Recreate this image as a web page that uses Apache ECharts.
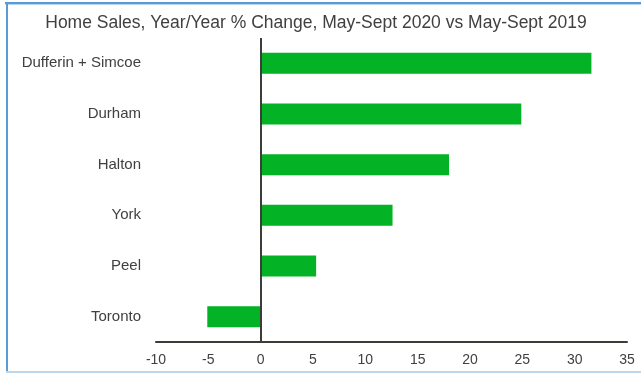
<!DOCTYPE html>
<html>
<head>
<meta charset="utf-8">
<script src="https://cdn.jsdelivr.net/npm/echarts@6/dist/echarts.min.js"></script>
<style>
  html, body { margin: 0; padding: 0; background: #fff; }
  #chart { width: 641px; height: 373px; }
</style>
</head>
<body>
<div id="chart"></div>
<script>
// Regions, listed bottom-to-top as the category axis draws them
const regions = ['Toronto', 'Peel', 'York', 'Halton', 'Durham', 'Dufferin + Simcoe'];
// Year-over-year change in home sales, percent
const changePct = [-5.1, 5.3, 12.6, 18.0, 24.9, 31.6];
// Value axis extent and step
const axisMin = -10;
const axisMax = 35;
const axisStep = 5;

const chart = echarts.init(document.getElementById('chart'), null, { renderer: 'canvas' });

const textColor = '#404040';
const axisColor = '#3b3e36';
const font = 'Liberation Sans, Arial, sans-serif';

chart.setOption({
  animation: false,
  title: {
    text: 'Home Sales, Year/Year % Change, May-Sept 2020 vs May-Sept 2019',
    left: 311,
    textAlign: 'center',
    top: 9,
    textStyle: { fontFamily: font, fontSize: 17.5, fontWeight: 'normal', color: textColor }
  },
  grid: { left: 156, right: 14, top: 38, bottom: 31, containLabel: false },
  xAxis: {
    type: 'value',
    min: axisMin,
    max: axisMax,
    interval: axisStep,
    axisLine: { show: true, onZero: false, lineStyle: { color: axisColor, width: 2 } },
    axisTick: { show: false },
    splitLine: { show: false },
    axisLabel: { color: textColor, fontFamily: font, fontSize: 14, margin: 11 }
  },
  yAxis: {
    type: 'category',
    data: regions,
    axisLine: { show: false },
    axisTick: { show: false },
    axisLabel: { color: textColor, fontFamily: font, fontSize: 15, margin: 15 }
  },
  series: [{
    type: 'bar',
    data: changePct,
    barWidth: 21,
    itemStyle: { color: '#03b325' },
    markLine: {
      silent: true,
      symbol: 'none',
      label: { show: false },
      lineStyle: { color: axisColor, width: 2, type: 'solid' },
      data: [{ xAxis: 0 }]
    }
  }],
  graphic: [
    { type: 'rect', shape: { x: 5, y: 2, width: 636, height: 2 }, style: { fill: '#5b9bd5' }, silent: true },
    { type: 'rect', shape: { x: 5, y: 4, width: 636, height: 1 }, style: { fill: '#bdd7ee' }, silent: true },
    { type: 'rect', shape: { x: 6, y: 2, width: 2, height: 371 }, style: { fill: '#5b9bd5' }, silent: true },
    { type: 'rect', shape: { x: 6, y: 371, width: 635, height: 2 }, style: { fill: '#bdd7ee' }, silent: true }
  ]
});
</script>
</body>
</html>
